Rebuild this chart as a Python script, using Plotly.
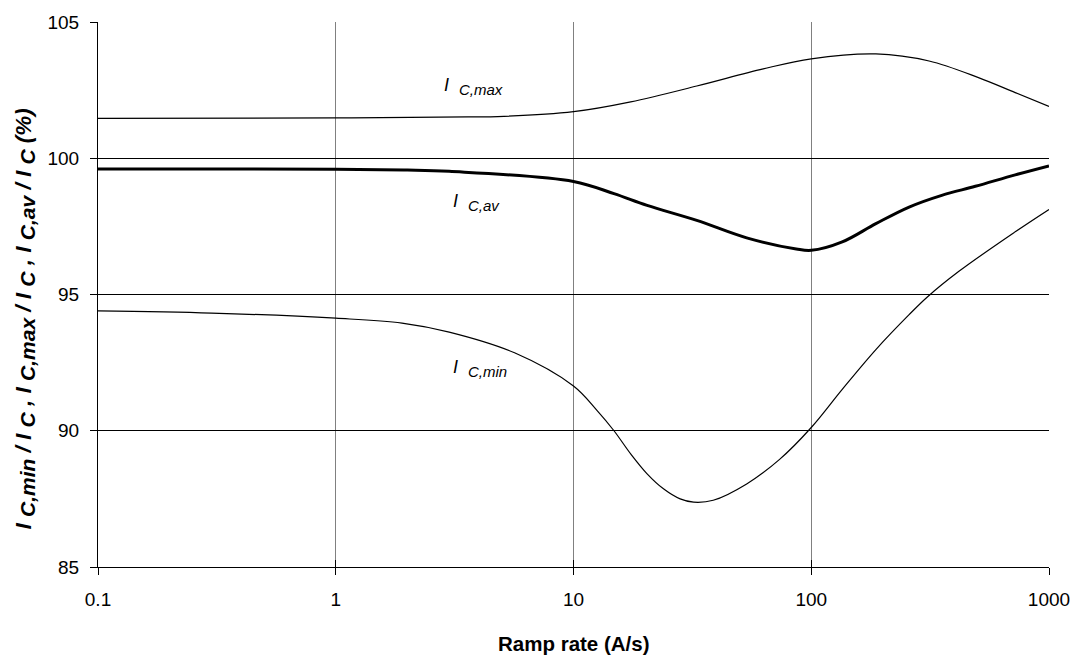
import plotly.graph_objects as go

# ---- data ----
ramp_max = [0.1, 1, 3.6, 4.8, 10, 17.4, 33, 62.8, 100, 187, 313, 505, 721, 1000]
ic_max = [101.46, 101.48, 101.52, 101.53, 101.71, 102.07, 102.65, 103.28, 103.65, 103.83, 103.57, 102.96, 102.41, 101.9]

ramp_av = [0.1, 1, 2, 3, 10, 14.8, 20.4, 33, 53.5, 86.5, 100, 135, 187, 258, 354, 490, 721, 1000]
ic_av = [99.61, 99.60, 99.57, 99.52, 99.15, 98.70, 98.27, 97.72, 97.08, 96.67, 96.62, 96.93, 97.6, 98.21, 98.64, 98.97, 99.39, 99.72]

ramp_min = [0.1, 0.3, 1, 1.9, 3, 5.65, 10, 12.6, 14.8, 17.4, 20.4, 23.9, 28.1, 32, 38.7, 53.5, 73.6, 100, 135, 187, 258, 307, 418, 721, 1000]
ic_min = [94.40, 94.32, 94.13, 93.95, 93.62, 92.86, 91.64, 90.73, 90.0, 89.15, 88.42, 87.87, 87.5, 87.38, 87.45, 88.05, 88.95, 90.12, 91.52, 92.98, 94.26, 94.9, 95.85, 97.3, 98.12]

x_ticks = [0.1, 1, 10, 100, 1000]
x_ticktext = ["0.1", "1", "10", "100", "1000"]
y_ticks = [85, 90, 95, 100, 105]

FONT = "Arial, Liberation Sans, sans-serif"

fig = go.Figure()
fig.add_trace(go.Scatter(x=ramp_max, y=ic_max, mode="lines", line=dict(color="black", width=1.2, shape="spline"), showlegend=False))
fig.add_trace(go.Scatter(x=ramp_av, y=ic_av, mode="lines", line=dict(color="black", width=3, shape="spline"), showlegend=False))
fig.add_trace(go.Scatter(x=ramp_min, y=ic_min, mode="lines", line=dict(color="black", width=1.2, shape="spline"), showlegend=False))
# invisible trace to hold the overlay axes (used for crossing tick marks)
fig.add_trace(go.Scatter(x=[0.1, 1000], y=[85, 105], mode="none", xaxis="x2", yaxis="y2", showlegend=False, hoverinfo="skip"))

xr = [-1, 3]
yr = [85, 105]

fig.update_layout(
    width=1082, height=656,
    margin=dict(l=98, r=28, t=19, b=89),
    paper_bgcolor="white", plot_bgcolor="white",
    font=dict(family=FONT, size=19, color="black"),
    xaxis=dict(type="log", range=xr, tickvals=x_ticks, ticktext=x_ticktext,
               showgrid=True, gridcolor="#808080", gridwidth=1,
               showline=True, linecolor="black", linewidth=1,
               ticks="outside", ticklen=7, tickcolor="black", ticklabelstandoff=8,
               zeroline=False),
    yaxis=dict(range=yr, tickvals=y_ticks, showgrid=True, gridcolor="black", gridwidth=1,
               showline=True, linecolor="black", linewidth=1,
               ticks="outside", ticklen=7, tickcolor="black", ticklabelstandoff=7,
               zeroline=False),
    xaxis2=dict(type="log", range=xr, tickvals=x_ticks, overlaying="x", anchor="y",
                showgrid=False, showticklabels=False, ticks="inside", ticklen=7,
                tickcolor="black", showline=False, zeroline=False),
    yaxis2=dict(range=yr, tickvals=y_ticks, overlaying="y", anchor="x", side="left",
                showgrid=False, showticklabels=False, ticks="inside", ticklen=7,
                tickcolor="black", showline=False, zeroline=False),
)

lab_font = dict(family=FONT, size=18, color="black")


def sub(txt, px):
    return '<sub><span style="font-size:%dpx">%s</span></sub>' % (px, txt)


fig.add_annotation(x=0.448, y=102.63, xref="x", yref="y", xanchor="left", yanchor="middle",
                   text="<i>I&nbsp; " + sub("C,max", 15) + "</i>", showarrow=False, font=lab_font)
fig.add_annotation(x=0.485, y=98.36, xref="x", yref="y", xanchor="left", yanchor="middle",
                   text="<i>I&nbsp; " + sub("C,av", 15) + "</i>", showarrow=False, font=lab_font)
fig.add_annotation(x=0.485, y=92.3, xref="x", yref="y", xanchor="left", yanchor="middle",
                   text="<i>I&nbsp; " + sub("C,min", 15) + "</i>", showarrow=False, font=lab_font)

# axis titles
ytitle = ("<b><i>I " + sub("C,min", 21) + " / I " + sub("C", 21) + " , I " + sub("C,max", 21)
          + " / I " + sub("C", 21) + " , I " + sub("C,av", 21) + " / I " + sub("C", 21)
          + " (%)</i></b>")
fig.add_annotation(xref="paper", yref="paper", x=0, y=0.5, xshift=-73, yshift=-25,
                   xanchor="center", yanchor="middle", textangle=-90, showarrow=False,
                   text=ytitle, font=dict(family=FONT, size=22.5, color="black"))
fig.add_annotation(xref="paper", yref="paper", x=0.5, y=0, yshift=-63,
                   xanchor="center", yanchor="top", showarrow=False,
                   text="<b>Ramp rate (A/s)</b>", font=dict(family=FONT, size=20.5, color="black"))

fig.write_html("out.html", config={"displayModeBar": False},
               post_script="document.body.style.margin='0';document.body.style.overflow='hidden';")
